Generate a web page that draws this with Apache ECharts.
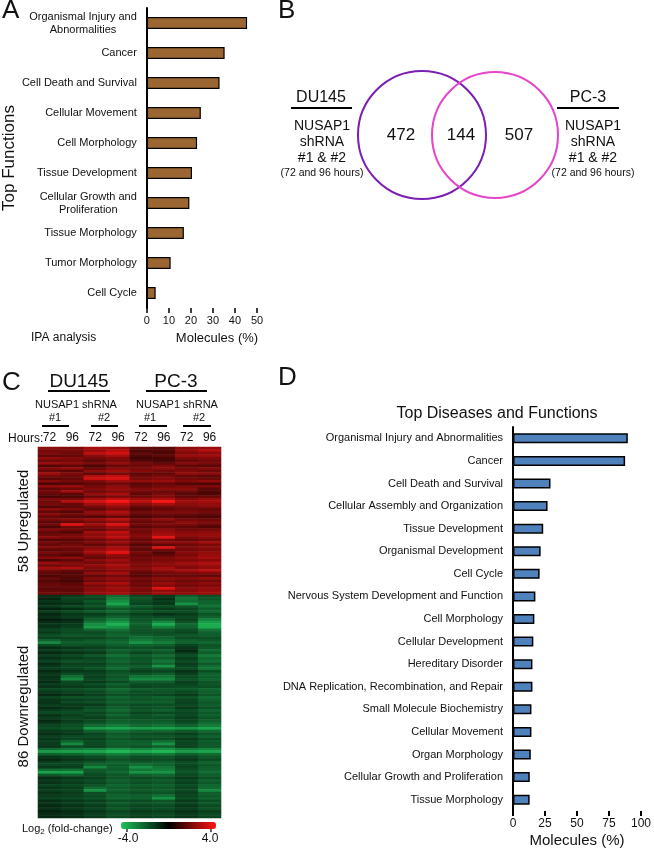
<!DOCTYPE html>
<html><head><meta charset="utf-8">
<script src="https://cdn.jsdelivr.net/npm/echarts@6/dist/echarts.min.js"></script>
<style>html,body{margin:0;padding:0;background:#fff}#c{width:654px;height:849px}</style>
</head><body><div id="c"></div>
<script>
const FONT = "'Liberation Sans', Arial, Helvetica, sans-serif";

// ---------- Panel A : IPA top functions ----------
const aCategories = ['Organismal Injury and\nAbnormalities','Cancer','Cell Death and Survival','Cellular Movement','Cell Morphology','Tissue Development','Cellular Growth and\nProliferation','Tissue Morphology','Tumor Morphology','Cell Cycle'];
const aValues = [45.5, 35.3, 33.0, 24.5, 22.8, 20.5, 19.3, 16.8, 10.8, 4.0];

// ---------- Panel B : Venn ----------
const vennSets = ['DU145', 'PC-3'];
const vennCounts = [472, 144, 507];

// ---------- Panel C : heatmap (log2 fold-change) ----------
const hourLabels = ['72','96','72','96','72','96','72','96'];
const upRows = [
[2.2,2.0,2.6,2.4,1.6,1.4,2.2,2.4],[1.8,1.9,2.4,2.9,1.2,1.3,2.3,2.8],[2.0,1.7,3.0,3.3,1.5,1.2,2.0,2.2],[1.5,1.6,2.2,2.6,1.3,1.5,2.4,2.5],
[2.3,2.1,1.8,2.0,1.0,1.1,1.9,2.0],[1.7,1.9,1.5,1.9,1.4,1.2,1.6,1.8],[2.4,2.2,1.9,2.3,1.8,1.5,2.1,1.9],[1.3,1.5,1.2,1.6,1.7,2.0,1.5,1.4],
[2.0,2.3,1.6,2.1,1.9,2.2,1.8,2.1],[1.6,1.4,2.2,2.5,2.1,1.8,2.0,1.7],[2.5,2.0,1.4,1.8,1.5,1.6,2.3,2.2],[1.9,1.7,2.8,3.0,1.7,1.9,1.6,1.5],
[1.4,1.6,3.2,3.4,1.9,2.1,1.8,1.7],[2.1,1.8,2.0,2.5,2.3,2.4,2.0,2.3],[1.2,1.3,1.5,1.7,1.4,1.6,1.3,1.2],[2.3,2.4,1.8,2.2,1.6,1.8,1.9,2.0],
[1.5,1.7,2.1,2.4,2.0,2.2,2.2,1.4],[1.8,2.6,1.7,2.0,1.8,1.7,1.7,1.3],[1.6,1.4,2.4,2.7,1.5,1.9,1.4,1.2],[1.1,1.2,1.6,1.9,1.7,2.0,1.5,1.6],
[2.0,1.9,2.6,3.0,2.5,2.8,2.1,2.4],[1.7,2.8,3.3,4.0,3.0,4.0,2.5,2.6],[1.9,1.6,2.5,2.9,2.2,2.6,2.2,2.3],[1.3,1.5,1.8,2.3,1.6,1.8,1.9,2.1],
[2.2,2.0,1.5,1.9,1.3,1.5,1.7,1.6],[1.5,1.3,2.3,2.8,1.8,2.0,2.0,1.8],[2.1,1.8,2.0,2.4,1.5,1.7,1.6,1.5],[1.6,1.4,1.3,1.6,1.2,1.4,1.3,1.2],
[1.9,2.1,2.4,2.9,1.9,2.3,1.8,1.7],[1.4,1.6,1.9,2.2,1.6,1.7,2.2,2.0],[1.8,3.6,2.5,3.5,1.8,2.0,1.9,1.6],[1.2,1.7,1.9,2.4,1.4,1.6,1.5,1.3],
[2.0,1.8,1.6,2.0,1.9,2.2,1.8,1.9],[1.5,1.3,2.5,3.0,1.7,2.4,2.1,2.2],[1.7,1.9,2.2,2.6,2.1,2.6,2.3,2.4],[2.2,2.0,2.4,3.0,2.0,3.6,2.0,2.2],
[1.3,1.4,1.7,2.1,1.6,1.9,1.6,1.8],[1.8,1.6,2.0,2.4,1.8,2.2,2.2,2.5],[1.6,1.8,1.5,1.9,1.3,1.5,1.7,1.9],[2.0,1.9,2.1,2.6,1.7,3.5,2.0,2.2],
[1.4,1.6,2.4,2.8,1.5,1.7,1.8,2.0],[1.9,1.7,2.6,3.6,1.9,1.2,2.1,2.3],[1.5,1.3,1.9,2.3,1.6,1.5,1.9,2.4],[2.1,2.2,1.6,2.0,1.8,2.0,2.3,2.6],
[1.2,1.5,2.2,2.5,1.7,1.9,2.0,2.1],[2.4,2.1,1.8,2.2,2.0,2.2,2.5,2.8],[1.7,1.9,2.3,2.7,1.9,2.1,2.2,2.4],[2.6,2.8,2.0,2.4,2.2,2.6,2.0,2.3],
[1.8,1.6,1.7,2.1,1.8,2.3,2.6,2.9],[1.5,1.3,2.3,2.6,1.5,1.8,1.9,2.0],[1.2,1.4,1.5,1.8,1.3,1.6,1.6,1.5],[1.6,1.3,2.0,2.3,1.9,2.2,2.1,2.3],
[1.3,1.1,1.7,2.0,1.6,1.9,1.7,1.8],[1.5,1.4,2.4,2.7,1.8,2.4,2.0,2.2],[1.7,1.6,1.9,2.2,1.7,2.1,1.8,2.0],[1.4,1.5,2.1,2.5,2.0,3.5,2.2,2.3],
[1.6,1.5,2.2,2.4,1.9,2.3,2.1,2.4],[1.8,1.7,2.3,2.6,2.1,2.5,2.3,2.5]
];
const downRows = [
[-1.0,-1.2,-1.6,-2.2,-1.5,-1.2,-1.9,-1.6],[-0.8,-1.4,-1.4,-2.6,-1.7,-1.0,-2.4,-1.8],[-1.1,-1.3,-1.8,-2.9,-1.6,-1.3,-2.2,-2.0],[-0.9,-1.0,-1.5,-3.4,-1.4,-1.1,-3.0,-2.1],
[-1.2,-1.5,-1.7,-2.4,-1.9,-1.6,-1.8,-2.3],[-0.7,-0.9,-1.3,-1.8,-1.5,-1.2,-1.4,-1.9],[-1.3,-1.6,-1.9,-2.2,-1.8,-1.7,-1.6,-2.2],[-0.8,-1.1,-1.2,-1.6,-1.3,-1.0,-1.2,-1.7],
[-1.0,-1.3,-1.6,-2.0,-1.6,-1.5,-1.5,-2.0],[-0.6,-0.8,-1.9,-2.5,-1.7,-1.9,-1.3,-2.6],[-0.9,-1.0,-2.4,-3.1,-1.9,-2.8,-1.7,-3.2],[-1.1,-1.2,-2.9,-3.6,-2.0,-3.5,-2.2,-3.5],
[-1.0,-1.3,-3.2,-3.0,-1.8,-2.6,-2.0,-3.5],[-1.4,-1.6,-2.0,-2.3,-1.7,-1.8,-1.6,-2.4],[-1.2,-1.5,-1.5,-1.9,-1.6,-1.6,-1.4,-2.0],[-1.6,-1.8,-1.7,-2.1,-1.9,-1.7,-1.8,-1.9],
[-1.3,-1.4,-1.4,-1.7,-2.2,-2.0,-1.5,-1.6],[-2.0,-1.6,-1.8,-2.0,-2.5,-2.2,-1.9,-1.8],[-2.8,-1.9,-1.9,-2.2,-3.0,-2.6,-2.0,-2.1],[-1.5,-1.7,-1.6,-1.9,-2.0,-1.9,-1.4,-1.7],
[-0.9,-1.1,-1.3,-1.6,-1.6,-1.5,-1.1,-1.8],[-1.2,-1.4,-1.5,-2.0,-1.8,-2.0,-0.8,-2.2],[-0.8,-1.0,-1.2,-1.8,-1.4,-1.7,-1.2,-1.9],[-1.3,-1.5,-1.8,-2.3,-1.9,-2.2,-1.6,-2.5],
[-1.0,-1.2,-1.4,-1.9,-1.7,-1.9,-1.3,-2.1],[-1.4,-1.7,-1.6,-2.1,-1.8,-2.4,-1.5,-2.3],[-0.9,-1.3,-1.3,-1.8,-1.5,-2.0,-1.2,-1.8],[-1.1,-1.5,-1.5,-2.0,-1.9,-3.0,-1.4,-2.2],
[-1.3,-1.4,-1.7,-2.2,-1.6,-1.8,-1.6,-2.4],[-0.8,-1.1,-1.2,-1.6,-1.3,-1.4,-1.0,-1.6],[-1.2,-1.6,-1.4,-1.8,-1.7,-1.9,-1.3,-2.0],[-1.0,-2.2,-1.3,-1.7,-2.3,-2.4,-1.5,-1.9],
[-1.1,-2.8,-1.5,-1.9,-2.8,-2.8,-1.7,-2.1],[-0.9,-1.5,-1.2,-1.5,-1.9,-1.9,-1.3,-1.7],[-1.3,-1.4,-1.6,-2.0,-1.6,-1.6,-1.4,-1.8],[-1.0,-1.2,-1.3,-1.7,-1.4,-1.5,-1.6,-1.6],
[-1.5,-1.6,-1.8,-2.2,-1.9,-1.8,-1.8,-2.1],[-1.2,-1.4,-1.5,-1.9,-1.6,-1.7,-1.5,-1.9],[-0.8,-1.0,-1.3,-1.6,-1.5,-1.4,-1.2,-1.7],[-1.4,-1.7,-1.7,-2.1,-1.8,-2.0,-1.7,-2.2],
[-1.1,-1.3,-1.4,-1.8,-1.7,-1.8,-1.4,-2.0],[-1.0,-1.5,-1.6,-2.0,-1.9,-1.9,-1.3,-1.8],[-1.3,-1.2,-1.2,-1.7,-1.5,-1.6,-1.5,-1.9],[-0.9,-1.1,-1.5,-1.9,-1.6,-1.7,-1.2,-1.6],
[-1.2,-1.4,-1.8,-2.2,-1.8,-2.0,-1.6,-2.1],[-1.5,-1.6,-1.4,-1.8,-1.4,-1.5,-1.4,-1.8],[-1.0,-1.3,-1.6,-2.1,-1.7,-1.9,-1.5,-2.0],[-1.3,-1.5,-1.3,-1.7,-1.6,-1.6,-1.3,-1.7],
[-0.8,-1.2,-1.5,-1.9,-1.8,-1.8,-1.4,-1.9],[-1.1,-1.4,-1.7,-2.1,-1.9,-2.0,-1.6,-2.2],[-1.4,-1.6,-2.2,-2.6,-2.2,-2.4,-2.0,-2.5],[-1.6,-1.8,-3.2,-3.4,-3.2,-3.3,-3.1,-3.4],
[-1.2,-1.3,-2.0,-2.3,-2.0,-2.1,-1.8,-2.2],[-0.9,-1.1,-1.4,-1.8,-1.6,-1.5,-1.3,-1.7],[-1.3,-1.5,-1.6,-2.0,-1.8,-1.8,-1.6,-2.0],[-1.1,-1.4,-1.3,-1.7,-1.5,-1.6,-1.2,-1.6],
[-1.4,-2.0,-1.6,-2.0,-1.9,-2.2,-1.5,-1.9],[-1.2,-2.8,-1.5,-1.9,-2.0,-3.0,-1.4,-1.8],[-1.0,-1.5,-1.3,-1.7,-1.6,-1.9,-1.3,-1.7],[-2.2,-2.4,-2.6,-3.0,-2.7,-3.0,-2.5,-2.7],
[-3.2,-3.3,-3.4,-3.8,-3.5,-3.8,-3.2,-3.4],[-2.0,-2.1,-2.3,-2.6,-2.3,-2.5,-2.0,-2.2],[-1.1,-1.3,-1.5,-1.9,-1.6,-1.7,-1.4,-1.8],[-0.8,-1.0,-1.2,-1.6,-1.4,-1.5,-1.1,-1.5],
[-1.3,-1.5,-1.7,-2.0,-1.8,-1.9,-1.6,-2.0],[-1.5,-1.4,-2.0,-1.9,-2.2,-2.0,-1.5,-1.8],[-1.2,-1.3,-2.8,-2.0,-3.0,-2.4,-1.4,-1.9],[-2.2,-2.3,-1.8,-1.9,-2.4,-2.6,-1.6,-2.0],
[-3.3,-3.3,-1.7,-2.1,-3.0,-3.0,-1.7,-2.2],[-1.8,-2.0,-1.5,-1.8,-1.9,-2.1,-1.5,-1.9],[-0.9,-1.1,-1.3,-1.7,-1.5,-1.6,-1.2,-1.6],[-1.2,-1.4,-1.6,-2.0,-1.8,-1.9,-1.5,-2.0],
[-1.0,-1.2,-1.4,-1.8,-1.6,-1.7,-1.3,-1.8],[-1.4,-1.5,-1.7,-2.1,-1.9,-2.0,-1.6,-2.1],[-1.1,-1.3,-2.2,-1.9,-1.7,-1.8,-1.4,-2.2],[-1.3,-1.4,-3.0,-2.0,-1.8,-1.9,-1.5,-2.8],
[-1.0,-1.2,-1.6,-1.8,-1.6,-1.7,-1.3,-1.9],[-1.2,-1.3,-1.5,-2.0,-1.9,-2.3,-1.4,-1.8],[-1.4,-1.5,-1.7,-2.1,-2.0,-3.0,-1.6,-2.0],[-0.9,-1.1,-1.3,-1.6,-1.5,-1.7,-1.2,-1.6],
[-1.1,-1.3,-1.5,-1.9,-1.7,-1.8,-1.4,-1.8],[-0.8,-1.0,-1.2,-1.6,-1.4,-1.5,-1.1,-1.5],[-1.0,-1.2,-1.4,-1.8,-1.5,-1.6,-1.3,-1.7],[-0.7,-0.9,-1.1,-1.4,-1.2,-1.3,-1.0,-1.3],
[-0.9,-1.0,-1.3,-1.6,-1.4,-1.5,-1.2,-1.5],[-0.8,-0.9,-1.2,-1.5,-1.3,-1.4,-1.1,-1.4]
];

// ---------- Panel D : top diseases and functions ----------
const dCategories = ['Organismal Injury and Abnormalities','Cancer','Cell Death and Survival','Cellular Assembly and Organization','Tissue Development','Organismal Development','Cell Cycle','Nervous System Development and Function','Cell Morphology','Cellular Development','Hereditary Disorder','DNA Replication, Recombination, and Repair','Small Molecule Biochemistry','Cellular Movement','Organ Morphology','Cellular Growth and Proliferation','Tissue Morphology'];
const dValues = [89.7, 87.6, 29.3, 27.0, 23.6, 21.6, 20.8, 17.5, 16.7, 15.9, 15.2, 15.2, 14.4, 14.4, 13.9, 13.1, 13.0];

// ---------- build ----------
function toCells(rows) {
  const out = [];
  rows.forEach((r, ri) => r.forEach((v, ci) => out.push([ci, ri, v])));
  return out;
}
function T(x, y, text, size, extra) {
  return {type: 'text', x: x, y: y, silent: true,
    style: Object.assign({text: text, fontSize: size, fontFamily: FONT, fill: '#111', align: 'center', verticalAlign: 'middle'}, extra || {})};
}
function L(x1, y1, x2, y2, w, c) {
  return {type: 'line', silent: true, shape: {x1: x1, y1: y1, x2: x2, y2: y2}, style: {stroke: c || '#000', lineWidth: w || 2}};
}
function C(cx, cy, r, c) {
  return {type: 'circle', silent: true, shape: {cx: cx, cy: cy, r: r}, style: {fill: 'transparent', stroke: c, lineWidth: 2}};
}

const axisBlack = {lineStyle: {color: '#000', width: 2}};
const graphics = [
  // panel letters
  T(2, 11, 'A', 26, {align: 'left'}),
  T(278, 11, 'B', 26, {align: 'left'}),
  T(2, 383, 'C', 26, {align: 'left'}),
  T(278, 378, 'D', 26, {align: 'left'}),
  // panel A extra text
  T(31, 338, 'IPA analysis', 12, {align: 'left'}),
  T(217, 338, 'Molecules (%)', 13),
  // panel B venn
  C(422, 135, 64, '#7b1fb3'),
  C(495, 135, 63, '#e546c9'),
  T(401, 135, String(vennCounts[0]), 17),
  T(461, 135, String(vennCounts[1]), 17),
  T(519, 135, String(vennCounts[2]), 17),
  T(321, 98, vennSets[0], 16), L(291, 108, 352, 108, 2),
  T(322, 126, 'NUSAP1', 14), T(322, 142, 'shRNA', 14), T(322, 158, '#1 & #2', 14), T(322, 173, '(72 and 96 hours)', 10.5),
  T(588, 98, vennSets[1], 16), L(557, 108, 619, 108, 2),
  T(593, 126, 'NUSAP1', 14), T(593, 142, 'shRNA', 14), T(593, 158, '#1 & #2', 14), T(593, 173, '(72 and 96 hours)', 10.5),
  // panel C header
  T(79, 382, vennSets[0], 19), L(48, 391, 110, 391, 2),
  T(176, 382, vennSets[1], 19), L(146, 391, 207, 391, 2),
  T(76, 405, 'NUSAP1 shRNA', 11), T(177, 405, 'NUSAP1 shRNA', 11),
  T(55, 418, '#1', 11), T(104, 418, '#2', 11), T(150, 418, '#1', 11), T(199, 418, '#2', 11),
  L(42, 426, 69, 426, 2), L(91, 426, 118, 426, 2), L(139, 426, 167, 426, 2), L(183, 426, 211, 426, 2),
  T(8, 439, 'Hours:', 12, {align: 'left'}),
  // panel C colour scale labels
  {type: 'text', x: 22, y: 829, silent: true, style: {text: '{a|Log}{s|2}{a| (fold-change)}', fontFamily: FONT, fill: '#111', align: 'left', verticalAlign: 'middle',
    rich: {a: {fontSize: 11, fontFamily: FONT, fill: '#111'}, s: {fontSize: 8, fontFamily: FONT, fill: '#111', padding: [6, 0, 0, 0]}}}},
  L(127, 829, 127, 832, 1.2), L(211, 829, 211, 832, 1.2),
  T(128, 839, '-4.0', 12), T(210, 839, '4.0', 12),
  // panel D title
  T(497, 414, 'Top Diseases and Functions', 16)
];

const option = {
  animation: false,
  textStyle: {fontFamily: FONT},
  grid: [
    {left: 146.5, top: 8, width: 110.5, height: 300},
    {left: 38, top: 447, width: 183, height: 148},
    {left: 38, top: 595, width: 183, height: 223},
    {left: 513, top: 427, width: 130, height: 384}
  ],
  xAxis: [
    {gridIndex: 0, type: 'value', min: 0, max: 50, interval: 10, splitLine: {show: false},
      axisLine: {lineStyle: {color: '#000', width: 1.5}}, axisTick: {show: true, length: 5, lineStyle: {color: '#000', width: 1.5}},
      axisLabel: {fontSize: 11, color: '#111', margin: 7}},
    {gridIndex: 1, type: 'category', position: 'top', data: hourLabels, axisLine: {show: false}, axisTick: {show: false},
      axisLabel: {fontSize: 12, color: '#111', margin: 3}},
    {gridIndex: 2, type: 'category', data: hourLabels, show: false},
    {gridIndex: 3, type: 'value', min: 0, max: 100, interval: 25, splitLine: {show: false},
      axisLine: axisBlack, axisTick: {show: true, length: 5, lineStyle: {color: '#000', width: 2}},
      axisLabel: {fontSize: 12, color: '#111', margin: 7},
      name: 'Molecules (%)', nameLocation: 'middle', nameGap: 22, nameTextStyle: {fontSize: 15, color: '#111'}}
  ],
  yAxis: [
    {gridIndex: 0, type: 'category', inverse: true, data: aCategories, axisLine: axisBlack, axisTick: {show: false},
      axisLabel: {margin: 10, color: '#111', fontSize: 11, lineHeight: 13,
        formatter: v => v.split('\n').map(s => '{c|' + s + '}').join('\n'),
        rich: {c: {align: 'center', fontSize: 11, lineHeight: 13, color: '#111'}}},
      name: 'Top Functions', nameLocation: 'middle', nameRotate: 90, nameGap: 119, nameTextStyle: {fontSize: 17, color: '#111'}},
    {gridIndex: 1, type: 'category', inverse: true, data: upRows.map((_, i) => 'u' + i),
      axisLine: {show: false}, axisTick: {show: false}, axisLabel: {show: false},
      name: upRows.length + ' Upregulated', nameLocation: 'middle', nameRotate: 90, nameGap: 7, nameTextStyle: {fontSize: 15, color: '#111'}},
    {gridIndex: 2, type: 'category', inverse: true, data: downRows.map((_, i) => 'd' + i),
      axisLine: {show: false}, axisTick: {show: false}, axisLabel: {show: false},
      name: downRows.length + ' Downregulated', nameLocation: 'middle', nameRotate: 90, nameGap: 7, nameTextStyle: {fontSize: 15, color: '#111'}},
    {gridIndex: 3, type: 'category', inverse: true, data: dCategories, axisLine: axisBlack, axisTick: {show: false},
      axisLabel: {margin: 10, color: '#111', fontSize: 11}}
  ],
  visualMap: [{
    type: 'continuous', min: -4, max: 4, seriesIndex: [1, 2], orient: 'horizontal',
    left: 121, top: 822, itemWidth: 7, itemHeight: 95, padding: 0, calculable: false, hoverLink: false,
    inRange: {color: ['#1ec35a', '#000000', '#ff1414']}
  }],
  series: [
    {type: 'bar', xAxisIndex: 0, yAxisIndex: 0, data: aValues, barWidth: 12, silent: true,
      itemStyle: {color: '#9c6633', borderColor: '#000', borderWidth: 1.2}},
    {type: 'heatmap', xAxisIndex: 1, yAxisIndex: 1, data: toCells(upRows), silent: true, itemStyle: {borderWidth: 0}},
    {type: 'heatmap', xAxisIndex: 2, yAxisIndex: 2, data: toCells(downRows), silent: true, itemStyle: {borderWidth: 0}},
    {type: 'bar', xAxisIndex: 3, yAxisIndex: 3, data: dValues, barWidth: 10, silent: true,
      itemStyle: {color: '#4f81bd', borderColor: '#000', borderWidth: 1.5}}
  ],
  graphic: graphics
};

const chart = echarts.init(document.getElementById('c'), null, {renderer: 'canvas'});
chart.setOption(option);
</script>
</body></html>
